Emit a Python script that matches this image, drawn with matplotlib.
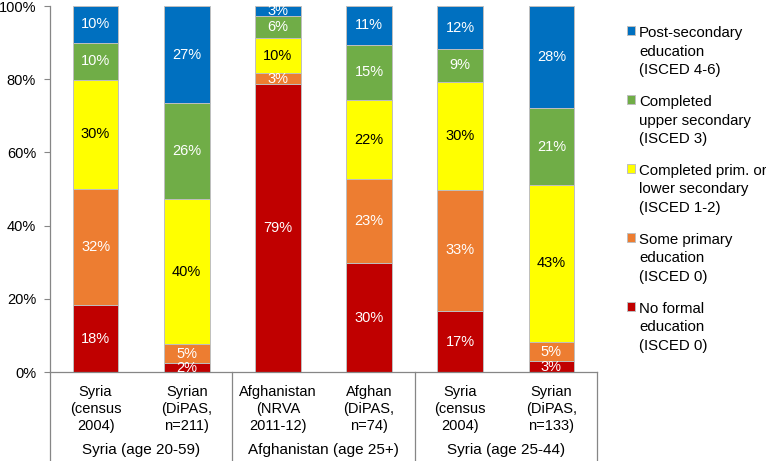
import matplotlib
matplotlib.use("Agg")
import matplotlib.pyplot as plt
from matplotlib.patches import Rectangle
from matplotlib.legend_handler import HandlerPatch
import numpy as np

plt.rcParams['font.family'] = ['Liberation Sans', 'DejaVu Sans']

categories = ["Syria\n(census\n2004)", "Syrian\n(DiPAS,\nn=211)",
              "Afghanistan\n(NRVA\n2011-12)", "Afghan\n(DiPAS,\nn=74)",
              "Syria\n(census\n2004)", "Syrian\n(DiPAS,\nn=133)"]
groups = ["Syria (age 20-59)", "Afghanistan (age 25+)", "Syria (age 25-44)"]

series_names = ["No formal\neducation\n(ISCED 0)",
                "Some primary\neducation\n(ISCED 0)",
                "Completed prim. or\nlower secondary\n(ISCED 1-2)",
                "Completed\nupper secondary\n(ISCED 3)",
                "Post-secondary\neducation\n(ISCED 4-6)"]
no_formal = [18.2, 2.4, 78.6, 29.7, 16.6, 2.9]
some_primary = [31.8, 5.2, 3.0, 22.9, 33.2, 5.3]
completed_lower = [29.8, 39.6, 9.6, 21.8, 29.5, 42.9]
upper_secondary = [10.2, 26.2, 6.0, 15.0, 8.9, 21.0]
post_secondary = [10.0, 26.6, 2.8, 10.6, 11.8, 27.9]

series = [no_formal, some_primary, completed_lower, upper_secondary, post_secondary]
colors = ["#C00000", "#ED7D31", "#FFFF00", "#70AD47", "#0070C0"]
text_colors = ["white", "white", "black", "white", "white"]

fig = plt.figure(figsize=(7.66, 4.61), dpi=100)
ax = fig.add_axes([50/766, (461-372)/461, (597-50)/766, 366/461])

x = np.arange(len(categories))
bottom = np.zeros(len(categories))
containers = []
for vals, col, tcol, name in zip(series, colors, text_colors, series_names):
    vals = np.array(vals)
    bc = ax.bar(x, vals, width=0.5, bottom=bottom, color=col,
                edgecolor="#BFBFBF", linewidth=0.7, label=name)
    containers.append(bc)
    for xi, b, v in zip(x, bottom, vals):
        ax.text(xi, b + v/2, "%.0f%%" % v, ha="center", va="center",
                color=tcol, fontsize=10.5)
    bottom += vals

ax.set_xlim(-0.5, len(categories) - 0.5)
ax.set_ylim(0, 100)
ax.set_yticks([0, 20, 40, 60, 80, 100])
ax.set_yticklabels(["0%", "20%", "40%", "60%", "80%", "100%"])
ax.tick_params(axis="y", length=4, width=0.8, color="#868686", pad=6, labelsize=10.5)
ax.set_xticks(x)
ax.set_xticklabels(categories, fontsize=10.5, linespacing=1.28)
ax.tick_params(axis="x", length=0, pad=9)
for s in ["top", "right"]:
    ax.spines[s].set_visible(False)
for s in ["left", "bottom"]:
    ax.spines[s].set_color("#868686")
    ax.spines[s].set_linewidth(0.9)

# group separators and labels
for bx in [-0.5, 1.5, 3.5, 5.5]:
    ax.plot([bx, bx], [0, -0.25], transform=ax.get_xaxis_transform(),
            color="#868686", linewidth=0.9, clip_on=False)
for gi, g in enumerate(groups):
    ax.text(2*gi + 0.5, -0.213, g, transform=ax.get_xaxis_transform(),
            ha="center", va="center", fontsize=11)


def top_square(legend, orig_handle, xdescent, ydescent, width, height, fontsize):
    return Rectangle((-xdescent, -ydescent + 1.4 * fontsize), width, height)


handles = [c.patches[0] for c in containers][::-1]
labels = series_names[::-1]
leg = fig.legend(handles, labels, loc="upper left", bbox_to_anchor=(627/766, 1 - 26/461),
                 frameon=False, fontsize=10.8, handlelength=0.55, handleheight=0.55,
                 handletextpad=0.25, labelspacing=1.18, borderpad=0, borderaxespad=0,
                 handler_map={Rectangle: HandlerPatch(patch_func=top_square)})
for t in leg.get_texts():
    t.set_linespacing(1.42)

fig.savefig("out.png", dpi=100)
